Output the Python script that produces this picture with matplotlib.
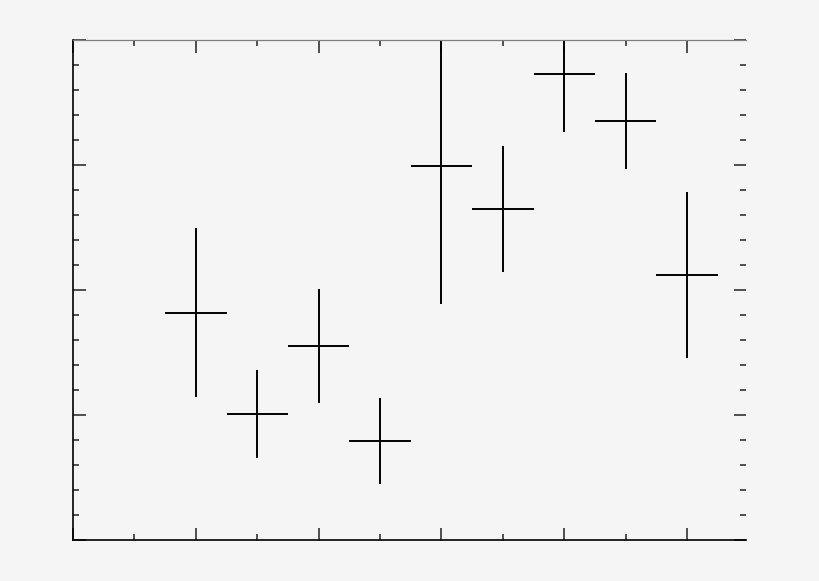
import matplotlib
matplotlib.use('Agg')
import matplotlib.pyplot as plt
from matplotlib.ticker import MultipleLocator, NullFormatter

# measured points, x centres and y values with symmetric errors
x_vals = [2, 3, 4, 5, 6, 7, 8, 9, 10]
y_vals = [1.82, 1.01, 1.55, 0.79, 2.99, 2.65, 3.73, 3.35, 2.12]
y_err = [0.675, 0.352, 0.456, 0.345, 1.104, 0.504, 0.467, 0.385, 0.66]
x_err = [0.5] * 9


def main():
    bg = '#f5f5f5'
    fig = plt.figure(figsize=(8.2, 5.81), dpi=100, facecolor=bg)
    ax = fig.add_axes([73 / 820, 41 / 581, 673 / 820, 500 / 581])
    ax.set_facecolor(bg)

    ax.errorbar(x_vals, y_vals, yerr=y_err, xerr=x_err, fmt='none',
                ecolor='black', elinewidth=1.4, capsize=0)

    ax.set_xlim(0, 10.96)
    ax.set_ylim(0, 4)

    ax.xaxis.set_major_locator(MultipleLocator(2))
    ax.xaxis.set_minor_locator(MultipleLocator(1))
    ax.yaxis.set_major_locator(MultipleLocator(1))
    ax.yaxis.set_minor_locator(MultipleLocator(0.2))
    ax.xaxis.set_major_formatter(NullFormatter())
    ax.yaxis.set_major_formatter(NullFormatter())

    ax.tick_params(which='both', direction='in', top=True, right=True,
                   color='#222222', width=1.1)
    ax.tick_params(which='major', length=9)
    ax.tick_params(which='minor', length=4.5)

    ax.spines['right'].set_visible(False)
    ax.spines['top'].set_color('#808080')
    ax.spines['top'].set_linewidth(0.9)
    for side in ('left', 'bottom'):
        ax.spines[side].set_color('black')
        ax.spines[side].set_linewidth(1.2)

    fig.savefig('out.png', dpi=100, facecolor=bg)


if __name__ == '__main__':
    main()
